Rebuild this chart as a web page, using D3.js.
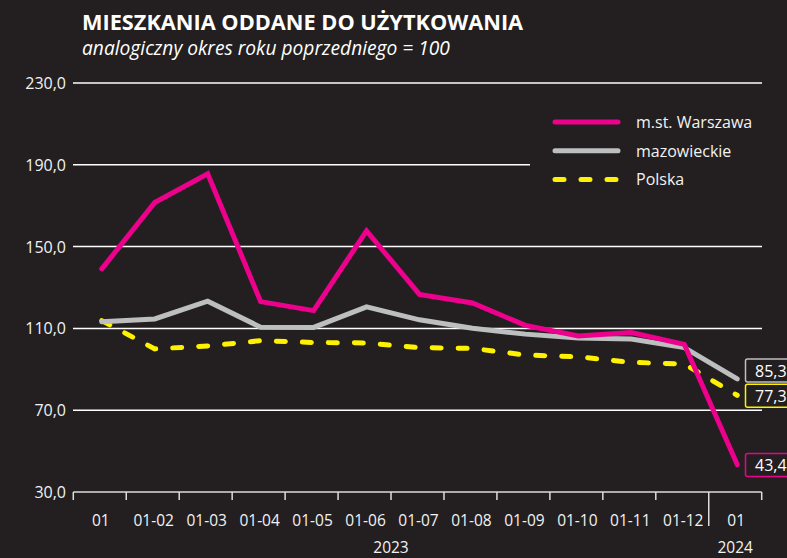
<!DOCTYPE html>
<html><head><meta charset="utf-8">
<script src="https://cdn.jsdelivr.net/npm/d3@7"></script>
<style>
html,body{margin:0;padding:0;background:#231f20;}
svg{display:block;}
</style></head>
<body>
<svg id="c" width="787" height="558"></svg>
<script>
const categories = ["01","01-02","01-03","01-04","01-05","01-06","01-07","01-08","01-09","01-10","01-11","01-12","01"];
const years = [{label:"2023", from:0, to:11},{label:"2024", from:12, to:12}];
const warszawa = [139.1,171.6,185.6,123.1,118.7,157.7,126.6,122.4,111.5,106.3,108.0,102.2,43.4];
const mazowieckie = [113.2,114.6,123.3,110.6,110.5,120.5,114.2,110.1,107.2,105.3,104.8,100.6,85.3];
const polska = [113.8,100.0,101.4,104.0,103.1,102.9,100.6,100.2,97.0,96.1,93.4,92.6,77.3];
const yTicks = [30,70,110,150,190,230];
const seriesNames = ["m.st. Warszawa","mazowieckie","Polska"];

const BG = "#231f20";
const svg = d3.select("#c");
const FONT = "'Open Sans', 'Noto Sans', sans-serif";

const x = d3.scaleBand().domain(d3.range(categories.length)).range([73.3, 761.7]).paddingInner(0).paddingOuter(0);
const y = d3.scaleLinear().domain([30,230]).range([492, 83]);
const cx = i => x(i) + x.bandwidth()/2 + 2;

function fit(sel, target){
  const n = sel.node(); let fs = parseFloat(sel.attr("font-size"));
  for(let k=0;k<3;k++){ const w = n.getComputedTextLength(); fs = fs*target/w; sel.attr("font-size", fs); }
}

// title
const t1 = svg.append("text").attr("x",82).attr("y",30).attr("fill","#fff")
  .attr("font-family",FONT).attr("font-weight","bold").attr("font-size",19)
  .text("MIESZKANIA ODDANE DO UŻYTKOWANIA");
fit(t1, 441);
const t2 = svg.append("text").attr("x",82).attr("y",55).attr("fill","#fff")
  .attr("font-family",FONT).attr("font-style","italic").attr("font-size",17)
  .text("analogiczny okres roku poprzedniego = 100");
fit(t2, 368);

// gridlines
svg.append("g").selectAll("line").data(yTicks.filter(d=>d!==30)).join("line")
  .attr("x1",73).attr("x2",762).attr("y1",d=>y(d)).attr("y2",d=>y(d))
  .attr("stroke","#fff").attr("stroke-width",1.5);

// y labels
svg.append("g").selectAll("text").data(yTicks).join("text")
  .attr("x",66).attr("y",d=>y(d)+6).attr("text-anchor","end")
  .attr("fill","#f2f2f2").attr("font-family",FONT).attr("font-size",16)
  .text(d=>d3.format(".1f")(d).replace(".",","));

// x axis
const xa = svg.append("g");
xa.append("line").attr("x1",73.3).attr("x2",761.7).attr("y1",492).attr("y2",492)
  .attr("stroke","#ddd").attr("stroke-width",1.5);
const bounds = d3.range(categories.length+1);
xa.selectAll("line.tk").data(bounds).join("line").attr("class","tk")
  .attr("x1",i=> i<categories.length ? x(i) : x.range()[1])
  .attr("x2",i=> i<categories.length ? x(i) : x.range()[1])
  .attr("y1",492).attr("y2",i=> i===12 ? 526 : 500)
  .attr("stroke","#ddd").attr("stroke-width",1.5);
xa.selectAll("text.cat").data(categories).join("text").attr("class","cat")
  .attr("x",(d,i)=>x(i)+x.bandwidth()/2+1).attr("y",526).attr("text-anchor","middle")
  .attr("fill","#f2f2f2").attr("font-family",FONT).attr("font-size",15.5)
  .text(d=>d);
xa.selectAll("text.yr").data(years).join("text").attr("class","yr")
  .attr("x",d=>(x(d.from)+x(d.to)+x.bandwidth())/2).attr("y",553).attr("text-anchor","middle")
  .attr("fill","#f2f2f2").attr("font-family",FONT).attr("font-size",15.5)
  .text(d=>d.label);

// legend background
svg.append("rect").attr("x",530).attr("y",98).attr("width",233).attr("height",100).attr("fill",BG);

const series = [
  {name:seriesNames[2], values:polska, color:"#fff200", dash:"9 17"},
  {name:seriesNames[1], values:mazowieckie, color:"#bcbec0", dash:null},
  {name:seriesNames[0], values:warszawa, color:"#ec008c", dash:null}
];
const line = d3.line().x((d,i)=>cx(i)).y(d=>y(d));
svg.append("g").selectAll("path").data(series).join("path")
  .attr("d",d=>line(d.values)).attr("fill","none")
  .attr("stroke",d=>d.color).attr("stroke-width",5)
  .attr("stroke-linecap","round").attr("stroke-linejoin","miter")
  .attr("stroke-dasharray",d=>d.dash);

// legend
const legendOrder = [series[2],series[1],series[0]];
const lg = svg.append("g");
legendOrder.forEach((s,k)=>{
  const yy = 122 + k*28.7;
  lg.append("line").attr("x1",555).attr("x2",618).attr("y1",yy).attr("y2",yy)
    .attr("stroke",s.color).attr("stroke-width",5).attr("stroke-linecap","round")
    .attr("stroke-dasharray",s.dash ? "9 17" : null);
  lg.append("text").attr("x",636).attr("y",yy+6).attr("fill","#f2f2f2")
    .attr("font-family",FONT).attr("font-size",16).text(s.name);
});

// end labels
const last = categories.length-1;
const endLabels = [
  {s:series[1], cy:370.5},
  {s:series[0], cy:null},
  {s:series[2], cy:null}
];
endLabels.forEach(e=>{
  const v = e.s.values[last];
  const c = e.cy!==null ? e.cy : y(v)+0.5;
  svg.append("rect").attr("x",745.5).attr("y",c-11.5).attr("width",50).attr("height",23)
    .attr("rx",2).attr("fill",BG).attr("stroke",e.s.color).attr("stroke-width",1.5);
  svg.append("text").attr("x",755).attr("y",c+6).attr("fill","#fff")
    .attr("font-family",FONT).attr("font-size",16)
    .text(d3.format(".1f")(v).replace(".",","));
});
</script>
</body></html>
